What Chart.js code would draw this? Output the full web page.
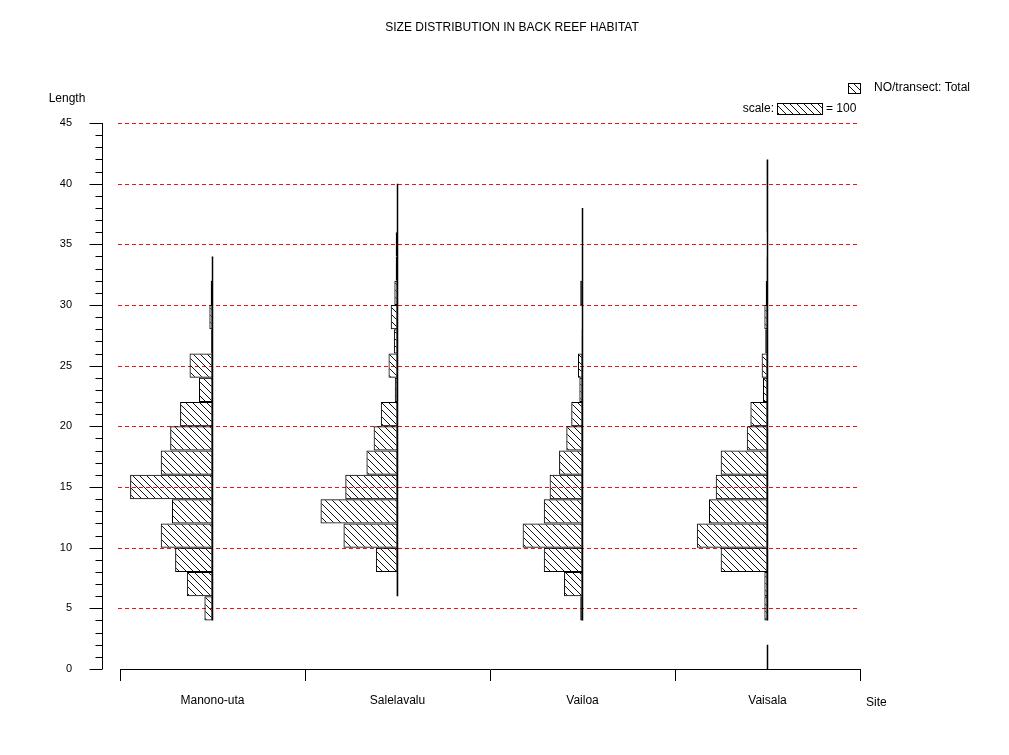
<!DOCTYPE html>
<html>
<head>
<meta charset="utf-8">
<title>Size distribution in back reef habitat</title>
<script src="https://cdn.jsdelivr.net/npm/chart.js@4.4.1/dist/chart.umd.min.js"></script>
<style>
  body { margin: 0; background: #fff; }
</style>
</head>
<body>
<canvas id="sizeChart" width="1009" height="755"></canvas>
<script>
// Size distribution in back reef habitat //

const sites = ['Manono-uta', 'Salelavalu', 'Vailoa', 'Vaisala'];
const binStarts = [0, 2, 4, 6, 8, 10, 12, 14, 16, 18, 20, 22, 24, 26, 28, 30, 32, 34, 36, 38, 40, 42];
const binWidth = 2;

// NO/transect per length class
const manonoUta  = [0, 0, 18, 57, 83, 115, 90, 183, 115, 94, 72, 30, 51, 3, 7, 4, 1, 0, 0, 0, 0, 0];
const salelavalu = [0, 0, 0, 2, 48, 120, 171, 116, 69, 53, 37, 6, 20, 8, 15, 7, 4, 4, 1, 1, 0, 0];
const vailoa     = [0, 0, 5, 41, 86, 133, 86, 73, 52, 36, 25, 7, 10, 2, 0.5, 5, 0.5, 0.5, 0.5, 0, 0, 0];
const vaisala    = [1, 0, 7, 7, 104, 157, 130, 115, 104, 46, 38, 10, 13, 5, 7, 4, 2, 1, 2, 2, 2, 0];

const lengthTicks = [0, 5, 10, 15, 20, 25, 30, 35, 40, 45];
const scaleCount = 100;

const siteValues = [manonoUta, salelavalu, vailoa, vaisala];
const siteSpan = 411; // counts across one site slot
const FONT = '"Liberation Sans", Arial, sans-serif';

const canvas = document.getElementById('sizeChart');
const ctx = canvas.getContext('2d');

// "\\\" hatching
const tile = document.createElement('canvas');
tile.width = tile.height = 7;
const t = tile.getContext('2d');
t.strokeStyle = '#111';
t.lineWidth = 1;
t.beginPath();
t.moveTo(-1, -1); t.lineTo(8, 8);
t.moveTo(-1, 6); t.lineTo(1, 8);
t.moveTo(6, -1); t.lineTo(8, 1);
t.stroke();
const hatch = ctx.createPattern(tile, 'repeat');

const base = (i) => (i + 0.5) * siteSpan;

const barSets = siteValues.map((vals, i) => ({
    type: 'bar',
    label: sites[i],
    indexAxis: 'y',
    data: vals.map((v, k) => ({ y: binStarts[k] + binWidth / 2, x: [base(i) - v, base(i)] }))
              .filter((d, k) => vals[k] > 0),
    backgroundColor: hatch,
    borderColor: '#000',
    borderWidth: 1,
    borderSkipped: false,
    inflateAmount: 0,
    grouped: false,
    barPercentage: 1,
    categoryPercentage: 1
}));

// vertical base line along each site's occupied length classes
const lineSets = siteValues.map((vals, i) => {
    const pts = [];
    let open = false;
    vals.forEach((v, k) => {
        if (v > 0) {
            if (!open) pts.push({ x: base(i), y: binStarts[k] });
            pts.push({ x: base(i), y: binStarts[k] + binWidth });
            open = true;
        } else if (open) {
            pts.push({ x: base(i), y: null });
            open = false;
        }
    });
    return {
        type: 'line',
        label: sites[i] + ' base',
        data: pts,
        borderColor: '#000',
        borderWidth: 1.5,
        pointRadius: 0,
        spanGaps: false
    };
});

const extras = {
    id: 'extras',
    beforeDatasetsDraw(chart) {
        // red dashed reference lines
        const c = chart.ctx;
        const { x, y } = chart.scales;
        c.save();
        c.strokeStyle = 'rgb(235,20,20)';
        c.lineWidth = 1;
        c.setLineDash([4, 3]);
        lengthTicks.filter((v) => v > 0).forEach((v) => {
            const py = Math.round(y.getPixelForValue(v)) + 0.5;
            c.beginPath();
            c.moveTo(x.left - 2, py);
            c.lineTo(x.right, py);
            c.stroke();
        });
        c.restore();
    },
    afterDraw(chart) {
        const c = chart.ctx;
        const { x, y } = chart.scales;
        c.save();
        c.fillStyle = '#000';
        c.strokeStyle = '#000';
        c.lineWidth = 1;

        c.font = '12px ' + FONT;
        c.textAlign = 'center';
        c.textBaseline = 'middle';
        c.fillText('SIZE DISTRIBUTION IN BACK REEF HABITAT', 512, 28);
        c.fillText('Length', 67, 99);
        c.textAlign = 'left';
        c.fillText('Site', 866, 703);

        // y axis sits apart from the plot
        const ax = 102.5;
        c.beginPath();
        c.moveTo(ax, y.getPixelForValue(y.min));
        c.lineTo(ax, y.getPixelForValue(y.max));
        for (let v = y.min; v <= y.max; v++) {
            const py = Math.round(y.getPixelForValue(v)) + 0.5;
            c.moveTo(ax - (v % 5 === 0 ? 13 : 7), py);
            c.lineTo(ax, py);
        }
        c.stroke();

        // legend
        c.fillStyle = hatch;
        c.fillRect(848, 83, 12, 10);
        c.strokeRect(848.5, 83.5, 12, 10);
        const w = x.getPixelForValue(scaleCount) - x.getPixelForValue(0);
        c.fillRect(777, 103, w, 11);
        c.strokeRect(777.5, 103.5, w, 11);
        c.fillStyle = '#000';
        c.textAlign = 'left';
        c.fillText('NO/transect: Total', 874, 88);
        c.fillText('= ' + scaleCount, 777 + w + 4, 109);
        c.textAlign = 'right';
        c.fillText('scale:', 774, 109);
        c.restore();
    }
};

const sizeChart = new Chart(ctx, {
    type: 'bar',
    data: { datasets: [...lineSets, ...barSets] },
    options: {
        responsive: false,
        animation: false,
        layout: { padding: { top: 123, right: 149, left: 0, bottom: 0 } },
        plugins: { legend: { display: false }, tooltip: { enabled: false }, title: { display: false } },
        scales: {
            x: {
                type: 'linear',
                offset: false,
                min: 0,
                max: sites.length * siteSpan,
                afterBuildTicks: (s) => {
                    const tk = [];
                    for (let i = 0; i <= sites.length * 2; i++) tk.push({ value: i * siteSpan / 2 });
                    s.ticks = tk;
                },
                afterFit: (s) => { s.height = 86; },
                ticks: {
                    autoSkip: false,
                    maxRotation: 0,
                    padding: 12,
                    color: '#000',
                    font: { family: FONT, size: 12 },
                    callback: (v, i) => (i % 2 === 1 ? sites[(i - 1) / 2] : '')
                },
                grid: {
                    offset: false,
                    drawOnChartArea: false,
                    drawTicks: true,
                    tickLength: 12,
                    tickColor: (c) => (c.index % 2 === 0 ? '#000' : 'rgba(0,0,0,0)')
                },
                border: { display: true, color: '#000', width: 1 }
            },
            y: {
                type: 'linear',
                offset: false,
                min: 0,
                max: 45,
                afterBuildTicks: (s) => { s.ticks = lengthTicks.map((v) => ({ value: v })); },
                afterFit: (s) => { s.width = 120; },
                ticks: {
                    padding: 48,
                    color: '#000',
                    font: { family: FONT, size: 11 }
                },
                grid: { display: false, offset: false, drawTicks: false },
                border: { display: false }
            }
        }
    },
    plugins: [extras]
});
</script>
</body>
</html>
